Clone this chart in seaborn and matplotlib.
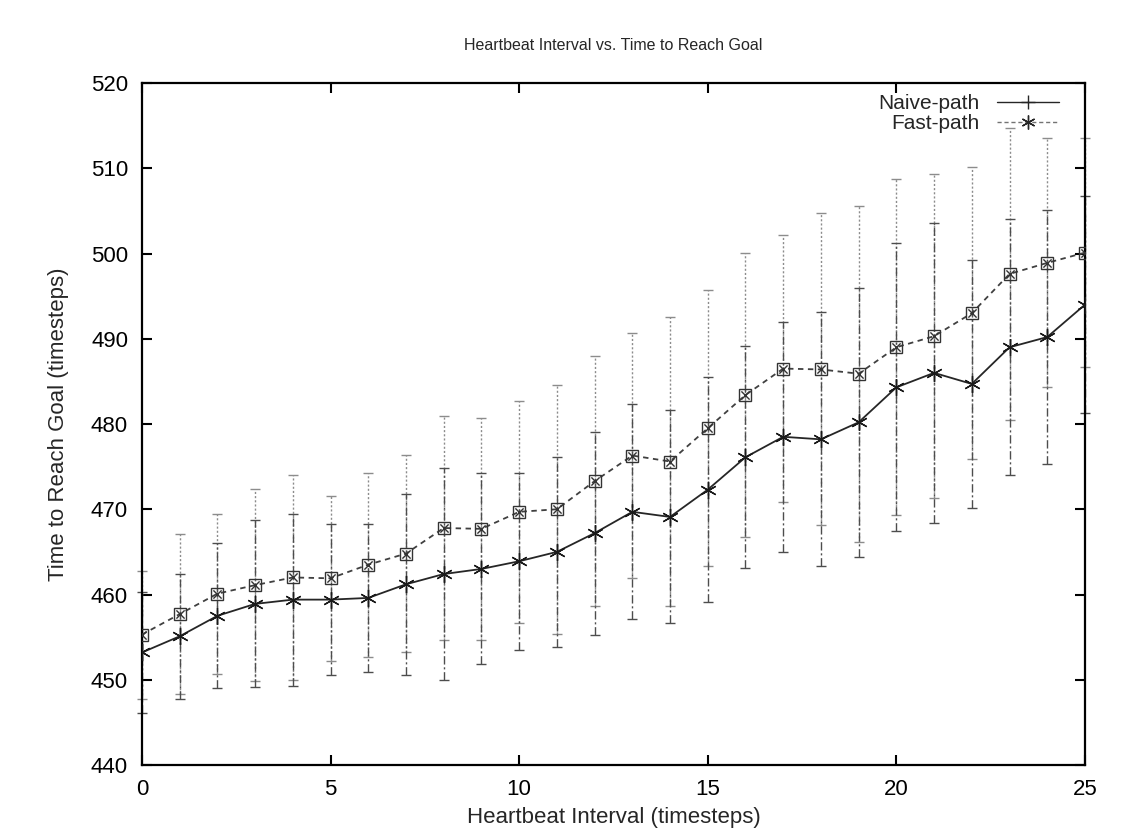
import numpy as np
import pandas as pd
import matplotlib
matplotlib.use("Agg")
import matplotlib.pyplot as plt
from matplotlib.lines import Line2D
import seaborn as sns

interval = list(range(26))

naive_mean = [453.2, 455.1, 457.5, 458.9, 459.4, 459.4, 459.6, 461.2, 462.4, 463.0,
              463.9, 465.0, 467.2, 469.7, 469.1, 472.3, 476.1, 478.5, 478.2, 480.2,
              484.3, 486.0, 484.7, 489.0, 490.2, 494.0]
naive_err = [7.1, 7.3, 8.5, 9.8, 10.1, 8.9, 8.7, 10.6, 12.4, 11.2,
             10.4, 11.1, 11.9, 12.6, 12.5, 13.2, 13.0, 13.5, 14.9, 15.8,
             16.9, 17.6, 14.5, 15.0, 14.9, 12.7]
fast_mean = [455.3, 457.7, 460.1, 461.1, 462.0, 461.9, 463.5, 464.8, 467.8, 467.7,
             469.7, 470.0, 473.3, 476.3, 475.6, 479.5, 483.4, 486.5, 486.4, 485.9,
             489.0, 490.3, 493.0, 497.6, 498.9, 500.1]
fast_err = [7.5, 9.4, 9.4, 11.3, 12.0, 9.7, 10.8, 11.6, 13.1, 13.0,
            13.0, 14.6, 14.7, 14.4, 17.0, 16.2, 16.7, 15.7, 18.3, 19.7,
            19.7, 19.0, 17.1, 17.1, 14.6, 13.4]

df = pd.DataFrame({"interval": interval,
                   "naive": naive_mean, "naive_err": naive_err,
                   "fast": fast_mean, "fast_err": fast_err})

sns.set_theme(style="ticks")
plt.rcParams['font.family'] = ['Liberation Sans', 'DejaVu Sans']
plt.rcParams['axes.linewidth'] = 1.6

fig = plt.figure(figsize=(11.33, 8.30), dpi=100)
ax = fig.add_axes([0.1253, 0.0783, 0.8323, 0.8217])

# error bars first so the lines sit on top
eb = ax.errorbar(df.interval, df.fast, yerr=df.fast_err, fmt='none', ecolor='0.55',
                 elinewidth=1.0, capsize=3.5, capthick=1.0, clip_on=False, zorder=1)
eb.lines[2][0].set_linestyle((0, (1.5, 1.5)))
eb = ax.errorbar(df.interval, df.naive, yerr=df.naive_err, fmt='none', ecolor='0.3',
                 elinewidth=1.0, capsize=3.5, capthick=1.0, clip_on=False, zorder=1)
eb.lines[2][0].set_linestyle((0, (6, 2, 1.5, 2)))

sns.lineplot(data=df, x="interval", y="naive", ax=ax, color='0.15', linewidth=1.3,
             marker=(6, 2, 0), markersize=12, markeredgewidth=1.0, markeredgecolor='0.1',
             zorder=3, legend=False)
sns.lineplot(data=df, x="interval", y="fast", ax=ax, color='0.25', linewidth=1.3,
             linestyle=(0, (3, 2.5)), marker='s', markersize=9, markerfacecolor='none',
             markeredgewidth=1.0, markeredgecolor='0.2', zorder=3, legend=False)
sns.scatterplot(data=df, x="interval", y="fast", ax=ax, marker='x', s=35, color='0.2',
                linewidth=1.0, zorder=4, legend=False)

ax.set_xlim(0, 25)
ax.set_ylim(440, 520)
ax.set_xticks(range(0, 26, 5))
ax.set_yticks(range(440, 521, 10))
ax.tick_params(direction='in', length=7, width=1.5, top=True, right=True,
               labelsize=16, colors='black', pad=10)
ax.tick_params(axis='y', pad=10)
for s in ax.spines.values():
    s.set_visible(True)
    s.set_color('black')

ax.set_title("Heartbeat Interval vs. Time to Reach Goal", fontsize=11.5, pad=24)
ax.set_xlabel("Heartbeat Interval (timesteps)", fontsize=16, labelpad=5)
ax.set_ylabel("Time to Reach Goal (timesteps)", fontsize=16, labelpad=16)

handles = [Line2D([], [], color='0.15', linewidth=1.0, marker='+', markersize=10,
                  markeredgewidth=1.0),
           Line2D([], [], color='0.45', linewidth=1.0, linestyle=(0, (3, 2)),
                  marker=(6, 2, 0), markersize=10, markeredgecolor='0.15',
                  markeredgewidth=1.0)]
ax.legend(handles, ["Naive-path", "Fast-path"], loc='upper right',
          bbox_to_anchor=(0.988, 1.005), frameon=False, markerfirst=False,
          fontsize=15, handlelength=3.0, handletextpad=0.8, labelspacing=0.05,
          borderpad=0.2)

fig.savefig("out.png", dpi=100)
